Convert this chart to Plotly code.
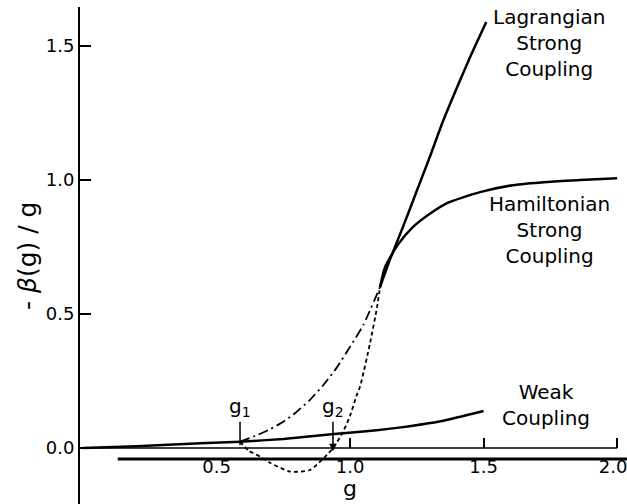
import plotly.graph_objects as go

# ---- data ----
weak_g = [0.0, 0.2, 0.44, 0.59, 0.75, 0.94, 1.10, 1.19, 1.34, 1.50]
weak_y = [0.0, 0.007, 0.0175, 0.0235, 0.034, 0.052, 0.066, 0.077, 0.100, 0.138]

lag_g = [1.112, 1.15, 1.20, 1.25, 1.30, 1.35, 1.40, 1.45, 1.51]
lag_y = [0.60, 0.705, 0.83, 0.96, 1.09, 1.225, 1.345, 1.46, 1.59]

ham_g = [1.112, 1.131, 1.18, 1.236, 1.30, 1.363, 1.487, 1.61, 1.738, 1.861, 2.0]
ham_y = [0.60, 0.675, 0.76, 0.825, 0.875, 0.914, 0.955, 0.981, 0.993, 1.0, 1.007]

dashdot_g = [0.588, 0.65, 0.70, 0.75, 0.80, 0.85, 0.90, 0.95, 1.00, 1.05, 1.112]
dashdot_y = [0.024, 0.047, 0.070, 0.098, 0.135, 0.180, 0.235, 0.300, 0.378, 0.460, 0.60]

dash_g = [0.588, 0.62, 0.663, 0.70, 0.775, 0.85, 0.913, 0.936, 0.974, 1.0, 1.025, 1.037, 1.075, 1.101, 1.112]
dash_y = [0.024, -0.010, -0.032, -0.055, -0.088, -0.082, -0.026, -0.001, 0.061, 0.12, 0.198, 0.228, 0.392, 0.526, 0.60]

g1 = 0.588
g2 = 0.936

# tick labels sit on the lower line; the last one is drawn a little left of 2.0, as in the figure
x_labelvals = [0.5, 1.0, 1.5, 1.985]
x_ticktext = ["0.5", "1.0", "1.5", "2.0"]
x_upticks = [1.0, 1.5, 2.0]
y_tickvals = [0.0, 0.5, 1.0, 1.5]
y_ticktext = ["0.0", "0.5", "1.0", "1.5"]

axis_line_g = [0.0, 2.0]
axis_line_y = [0.0, 0.0]
label_line_g = [0.13, 2.05]
label_line_y = [-0.041, -0.041]
label_row_y = -0.022

xrange = [-0.0112, 2.037]
yrange = [-0.209, 1.646]

FONT = "DejaVu Sans"


def frac(v):
    return (v - yrange[0]) / (yrange[1] - yrange[0])


fig = go.Figure()
solid = dict(color="black", width=2.5)

fig.add_trace(go.Scatter(x=weak_g, y=weak_y, mode="lines", line=dict(solid, shape="spline", smoothing=0.6)))
fig.add_trace(go.Scatter(x=lag_g, y=lag_y, mode="lines", line=dict(solid, shape="spline", smoothing=0.6)))
fig.add_trace(go.Scatter(x=ham_g, y=ham_y, mode="lines", line=dict(solid, shape="spline", smoothing=0.6)))
fig.add_trace(go.Scatter(x=dashdot_g, y=dashdot_y, mode="lines",
                         line=dict(color="black", width=1.8, dash="10px,4px,2px,4px", shape="spline", smoothing=0.6)))
fig.add_trace(go.Scatter(x=dash_g, y=dash_y, mode="lines",
                         line=dict(color="black", width=1.8, dash="4px,3px", shape="spline", smoothing=0.6)))
# thin axis line at y = 0 (with up ticks, on x2)
fig.add_trace(go.Scatter(x=axis_line_g, y=axis_line_y, mode="lines", xaxis="x2",
                         line=dict(color="black", width=1.5)))
# thick line above the tick labels
fig.add_trace(go.Scatter(x=label_line_g, y=label_line_y, mode="lines",
                         line=dict(color="black", width=3)))

fig.update_layout(
    width=627, height=504,
    margin=dict(l=80, r=0, t=7, b=0),
    paper_bgcolor="white", plot_bgcolor="white",
    showlegend=False,
    font=dict(family=FONT, color="black", size=18),
    xaxis=dict(range=xrange, anchor="free", position=frac(label_row_y), showline=False,
               automargin=False,
               ticks="", tickvals=x_labelvals, ticktext=x_ticktext, ticklabeloverflow="allow",
               tickfont=dict(size=18), showgrid=False, zeroline=False),
    xaxis2=dict(range=xrange, overlaying="x", anchor="free", position=frac(0.0),
                automargin=False,
                side="bottom", showline=False, ticks="inside", ticklen=10, tickwidth=1.5,
                tickcolor="black", tickvals=x_upticks, showticklabels=False,
                showgrid=False, zeroline=False),
    yaxis=dict(range=yrange, showline=True, linewidth=2, linecolor="black", automargin=False,
               ticks="inside", ticklen=11, tickwidth=1.5, tickcolor="black",
               tickvals=y_tickvals, ticktext=y_ticktext, tickfont=dict(size=18),
               showgrid=False, zeroline=False),
)

ann = [
    dict(x=1.745, y=1.511, text="Lagrangian<br>Strong<br>Coupling"),
    dict(x=1.745, y=0.813, text="Hamiltonian<br>Strong<br>Coupling"),
    dict(x=1.734, y=0.162, text="Weak<br>Coupling"),
]
for a in ann:
    fig.add_annotation(x=a["x"], y=a["y"], xref="x", yref="y", text=a["text"], showarrow=False,
                       font=dict(size=20, family=FONT), align="center")

fig.add_annotation(x=1.0, y=-0.15, xref="x", yref="y", text="g", showarrow=False,
                   font=dict(size=22, family=FONT))
fig.add_annotation(x=-0.097, y=0.72, xref="paper", yref="y", text="- <i>β</i>(g) / g", showarrow=False,
                   textangle=-90, xanchor="center", font=dict(size=25, family=FONT))

fig.add_annotation(x=g1, y=0.01, xref="x", yref="y", text="g<sub>1</sub>", showarrow=True,
                   arrowhead=0, arrowwidth=1.5, arrowcolor="black", ax=0, ay=-38, standoff=0,
                   font=dict(size=20, family=FONT))
fig.add_annotation(x=g2, y=-0.012, xref="x", yref="y", text="g<sub>2</sub>", showarrow=True,
                   arrowhead=2, arrowsize=1, arrowwidth=1.5, arrowcolor="black", ax=0, ay=-44,
                   standoff=0, font=dict(size=20, family=FONT))

fig.write_html("out.html")
